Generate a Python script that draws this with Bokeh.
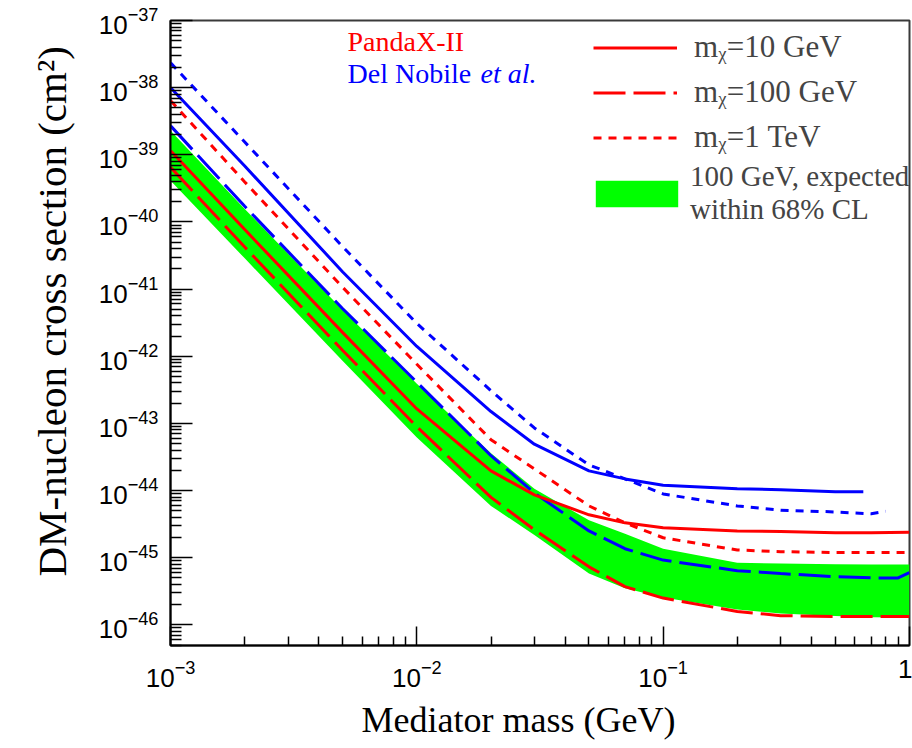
from bokeh.plotting import figure
from bokeh.models import (Range1d, Legend, LegendItem, Label, Title,
                          FixedTicker, LogTickFormatter)
from bokeh.embed import file_html
from bokeh.resources import INLINE

# ---------------- data ----------------
mass = [0.001, 0.002, 0.005, 0.01, 0.02, 0.03, 0.05, 0.07, 0.1, 0.2, 0.3, 0.5, 0.7, 1.0]

pandax_10gev = [1.15e-39, 7.7e-41, 2.25e-42, 1.64e-43, 1.96e-44, 8.6e-45, 4.35e-45,
                3.3e-45, 2.8e-45, 2.5e-45, 2.45e-45, 2.35e-45, 2.35e-45, 2.4e-45]
pandax_100gev = [6.5e-40, 4.23e-41, 1.22e-42, 8.9e-44, 7.9e-45, 2.6e-45, 7.3e-46,
                 3.7e-46, 2.5e-46, 1.58e-46, 1.37e-46, 1.33e-46, 1.33e-46, 1.33e-46]
pandax_1tev = [6.4e-39, 3.95e-40, 1.06e-41, 7.6e-43, 5.7e-44, 2.1e-44, 5.9e-45,
               3.3e-45, 1.98e-45, 1.3e-45, 1.23e-45, 1.19e-45, 1.19e-45, 1.19e-45]

band_hi = [2.29e-39, 1.56e-40, 4.9e-42, 3.9e-43, 3.6e-44, 1.06e-44, 3.6e-45,
           2.27e-45, 1.36e-45, 8.4e-46, 8.2e-46, 8.0e-46, 7.9e-46, 7.9e-46]
band_lo = [4.1e-40, 2.87e-41, 8.5e-43, 6.15e-44, 5.9e-45, 2.17e-45, 5.8e-46,
           3.5e-46, 2.55e-46, 1.69e-46, 1.47e-46, 1.35e-46, 1.3e-46, 1.28e-46]

dn_10gev_mass = [0.001, 0.002, 0.005, 0.01, 0.02, 0.03, 0.05, 0.07, 0.1, 0.2, 0.3, 0.5, 0.65]
dn_10gev = [1.0e-38, 6.8e-40, 1.8e-41, 1.4e-42, 1.5e-43, 4.9e-44, 1.96e-44,
            1.49e-44, 1.2e-44, 1.06e-44, 1.03e-44, 9.6e-45, 9.6e-45]

dn_100gev_mass = [0.001, 0.002, 0.005, 0.01, 0.02, 0.03, 0.05, 0.07, 0.1, 0.2, 0.3, 0.5, 0.7, 0.9, 1.0]
dn_100gev = [2.7e-39, 1.71e-40, 5.1e-42, 4.1e-43, 3.3e-44, 9.2e-45, 2.5e-45, 1.36e-45,
             9.2e-46, 6.4e-46, 5.8e-46, 5.2e-46, 5.0e-46, 5.0e-46, 6.0e-46]

dn_1tev_mass = [0.001, 0.002, 0.005, 0.01, 0.02, 0.03, 0.05, 0.07, 0.1, 0.2, 0.3, 0.5, 0.7, 0.8]
dn_1tev = [2.34e-38, 1.55e-39, 4.27e-41, 3.08e-42, 3.07e-43, 8.55e-44, 2.41e-44,
           1.49e-44, 8.9e-45, 5.9e-45, 5.1e-45, 4.8e-45, 4.5e-45, 4.9e-45]

x_major = [1e-3, 1e-2, 1e-1, 1.0]
y_major = [10.0 ** e for e in range(-46, -36)]

# ---------------- figure ----------------
p = figure(width=912, height=748, x_axis_type="log", y_axis_type="log",
           x_range=Range1d(0.000999, 1.001), y_range=Range1d(4.92e-47, 1.001e-37),
           output_backend="svg", toolbar_location=None,
           min_border_left=170, min_border_right=3, min_border_top=20, min_border_bottom=102)
p.background_fill_color = "white"
p.border_fill_color = "white"
p.grid.visible = False
p.outline_line_color = "#3a3a3a"
p.outline_line_width = 2

x_minor = [m * d for d in x_major[:-1] for m in range(2, 10)]
y_minor = [m * d for d in y_major[:-1] for m in range(2, 10)] + [m * 1e-47 for m in range(5, 10)]
p.xaxis.ticker = FixedTicker(ticks=x_major, minor_ticks=x_minor)
p.yaxis.ticker = FixedTicker(ticks=y_major, minor_ticks=y_minor)
p.xaxis.formatter = LogTickFormatter()
p.yaxis.formatter = LogTickFormatter()
p.xaxis.major_label_overrides = {1: "1"}

for ax, maj, mnr in ((p.xaxis, 19, 9), (p.yaxis, 22, 11)):
    ax.axis_line_color = "black"
    ax.axis_line_width = 2
    ax.major_tick_line_color = "black"
    ax.minor_tick_line_color = "black"
    ax.major_tick_line_width = 1.5
    ax.minor_tick_line_width = 1.5
    ax.major_tick_in = maj
    ax.major_tick_out = 0
    ax.minor_tick_in = mnr
    ax.minor_tick_out = 0
    ax.major_label_text_font = "Liberation Sans"
    ax.major_label_text_font_size = "26px"
    ax.major_label_text_color = "black"
p.xaxis.major_label_standoff = 14
p.yaxis.major_label_standoff = 12

# ---------------- data glyphs ----------------
band = p.varea(x=mass, y1=band_lo, y2=band_hi, fill_color="#00ff00", fill_alpha=1.0)

lw = 3
b1 = p.line(dn_10gev_mass, dn_10gev, line_color="#0000ff", line_width=lw)
b2 = p.line(dn_100gev_mass, dn_100gev, line_color="#0000ff", line_width=lw, line_dash="32 8")
b3 = p.line(dn_1tev_mass, dn_1tev, line_color="#0000ff", line_width=lw, line_dash="8 7")
r1 = p.line(mass, pandax_10gev, line_color="#ff0000", line_width=lw)
r2 = p.line(mass, pandax_100gev, line_color="#ff0000", line_width=lw, line_dash="32 8")
r3 = p.line(mass, pandax_1tev, line_color="#ff0000", line_width=lw, line_dash="8 7")

# ---------------- legends ----------------
serif = "Liberation Serif"
legend_lines = Legend(items=[
    LegendItem(label="m\u1d6a=10 GeV", renderers=[r1]),
    LegendItem(label="m\u1d6a=100 GeV", renderers=[r2]),
    LegendItem(label="m\u1d6a=1 TeV", renderers=[r3]),
], location=(423, 490), orientation="vertical",
    glyph_width=84, glyph_height=25, label_standoff=17, spacing=9, padding=0, margin=0,
    label_text_font=serif, label_text_font_size="31px",
    background_fill_alpha=0, border_line_alpha=0)
p.add_layout(legend_lines)

legend_band = Legend(items=[
    LegendItem(label="100 GeV, expected\nwithin 68% CL", renderers=[band]),
], location=(415, 419), orientation="vertical",
    glyph_width=103, glyph_height=33, label_standoff=2, spacing=0, padding=0, margin=0,
    label_text_font=serif, label_text_font_size="29px",
    background_fill_alpha=0, border_line_alpha=0)
p.add_layout(legend_band)

# ---------------- annotations ----------------
p.add_layout(Label(x=177, y=589, x_units="screen", y_units="screen", text="PandaX-II",
                   text_color="#ff0000", text_font=serif, text_font_size="28px"))
p.add_layout(Label(x=177, y=557, x_units="screen", y_units="screen", text="Del Nobile",
                   text_color="#0000ff", text_font=serif, text_font_size="28px"))
p.add_layout(Label(x=310, y=557, x_units="screen", y_units="screen", text="et al.",
                   text_color="#0000ff", text_font=serif, text_font_size="28px",
                   text_font_style="italic"))

# axis titles
p.add_layout(Title(text="Mediator mass (GeV)", align="left", offset=191, standoff=17,
                   text_font=serif, text_font_size="36px", text_font_style="normal",
                   text_color="black"), "below")
p.add_layout(Title(text="DM-nucleon cross section (cm\u00b2)", align="left", offset=69,
                   standoff=41, text_font=serif, text_font_size="41px",
                   text_font_style="normal", text_color="black"), "left")

open("out.html", "w").write(file_html(p, INLINE))
